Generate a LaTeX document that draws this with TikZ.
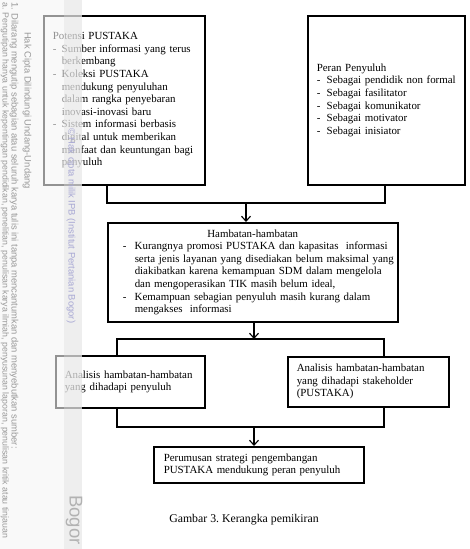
\documentclass[tikz,border=0pt]{standalone}
\usepackage{fontspec}
\setmainfont{Liberation Serif}
\newfontfamily\wmfont{Liberation Sans}
\usetikzlibrary{arrows.meta}

\definecolor{wmungu}{RGB}{168,168,212}

\tikzset{
  kotak/.style={draw, line width=1.5pt, align=left, anchor=north west,
    inner xsep=9pt, inner ysep=0pt, font=\fontsize{10.9}{12.6}\selectfont},
  garis/.style={line width=1.1pt},
  panah/.style={line width=1.1pt, -{Straight Barb[length=5pt,width=9pt]}},
  wm/.style={rotate=-90, inner sep=0pt, text=black!40,
    font=\wmfont\fontsize{9.4}{11}\selectfont},
}

% baris daftar dengan tanda strip
\newcommand{\butir}[2][9pt]{\mbox{\makebox[#1][l]{-}#2}}
\newcommand{\lanjut}[2][9pt]{\mbox{\hspace*{#1}#2}}

\begin{document}
\begin{tikzpicture}[x=1pt,y=-1pt]
  \useasboundingbox (0,0) rectangle (469,549);

  % kotak atas
  \node[kotak, text width=143pt, minimum height=169pt] (pot) at (43,15) {%
    \mbox{Potensi PUSTAKA}\\
    \butir{Sumber informasi yang terus}\\
    \lanjut{berkembang}\\
    \butir{Koleksi PUSTAKA}\\
    \lanjut{mendukung penyuluhan}\\
    \lanjut{dalam rangka penyebaran}\\
    \lanjut{inovasi-inovasi baru}\\
    \butir{Sistem informasi berbasis}\\
    \lanjut{digital untuk memberikan}\\
    \lanjut{manfaat dan keuntungan bagi}\\
    \lanjut{penyuluh}};
  \node[kotak, text width=139pt, minimum height=169pt] (peran) at (307,15) {%
    \mbox{Peran Penyuluh}\\
    \butir[10pt]{Sebagai pendidik non formal}\\
    \butir[10pt]{Sebagai fasilitator}\\
    \butir[10pt]{Sebagai komunikator}\\
    \butir[10pt]{Sebagai motivator}\\
    \butir[10pt]{Sebagai inisiator}};

  % hambatan
  \node[kotak, text width=272pt, minimum height=99pt] (hambatan) at (107,222) {%
    \makebox[272pt][c]{Hambatan-hambatan}\\
    \hspace*{6pt}\butir[12pt]{Kurangnya promosi PUSTAKA dan kapasitas\ \ informasi}\\
    \hspace*{6pt}\lanjut[12pt]{serta jenis layanan yang disediakan belum maksimal yang}\\
    \hspace*{6pt}\lanjut[12pt]{diakibatkan karena kemampuan SDM dalam mengelola}\\
    \hspace*{6pt}\lanjut[12pt]{dan mengoperasikan TIK masih belum ideal,}\\
    \hspace*{6pt}\butir[12pt]{Kemampuan sebagian penyuluh\ masih kurang\ dalam}\\
    \hspace*{6pt}\lanjut[12pt]{mengakses\ \ informasi}};

  % analisis
  \node[kotak, text width=131pt, minimum height=52pt] (anpen) at (55,355) {%
    \mbox{Analisis hambatan-hambatan}\\
    \mbox{yang dihadapi penyuluh}};
  \node[kotak, text width=143pt, minimum height=50pt] (anstake) at (287,356) {%
    \mbox{Analisis hambatan-hambatan}\\
    \mbox{yang\ dihadapi stakeholder}\\
    \mbox{(PUSTAKA)}};

  % perumusan
  \node[kotak, inner xsep=10pt, text width=190pt, minimum height=36pt] (rumus) at (153,446) {%
    \mbox{Perumusan strategi pengembangan}\\
    \mbox{PUSTAKA\ mendukung\ peran penyuluh}};

  \node[font=\fontsize{11.8}{14}\selectfont] (judul) at (244,520) {Gambar 3.\ Kerangka pemikiran};

  % sambungan
  \coordinate (a1) at (107,203);
  \coordinate (a2) at (385,203);
  \coordinate (a3) at (246,203);
  \draw[garis] (pot.south -| a1) -- (a1) -- (a2) -- (peran.south -| a2);
  \draw[panah] (a3) -- (hambatan.north -| a3);

  \coordinate (b1) at (117,339);
  \coordinate (b2) at (384,339);
  \coordinate (b3) at (254,339);
  \draw[panah] (hambatan.south -| b3) -- (b3);
  \draw[garis] (anpen.north -| b1) -- (b1) -- (b2) -- (anstake.north -| b2);

  \coordinate (c1) at (117,427);
  \coordinate (c2) at (384,427);
  \coordinate (c3) at (254,427);
  \draw[garis] (anpen.south -| c1) -- (c1) -- (c2) -- (anstake.south -| c2);
  \draw[panah] (c3) -- (rumus.north -| c3);

  % tanda air di tepi kiri
  \fill[black!4, fill opacity=0.6] (0,0) rectangle (64,549);
  \fill[black!9, fill opacity=0.75] (64,0) rectangle (82,549);
  \node[wm, anchor=west, font=\wmfont\fontsize{8.8}{10}\selectfont] (wm1) at (5,2) {a. Pengutipan hanya untuk kepentingan pendidikan, penelitian, penulisan karya ilmiah, penyusunan laporan, penulisan kritik atau tinjauan};
  \node[wm, anchor=west] (wm2) at (14,2) {1. Dilarang mengutip sebagian atau seluruh karya tulis ini tanpa mencantumkan dan menyebutkan sumber:};
  \node[wm, anchor=west] (wm3) at (27,32) {Hak Cipta Dilindungi Undang-Undang};
  \node[wm, anchor=west, text=wmungu] (wm4) at (71,128) {\textcopyright\ Hak cipta milik IPB (Institut Pertanian Bogor)};
  \node[wm, anchor=west, text=black!30, font=\wmfont\fontsize{18.5}{20}\selectfont] (wm5) at (74,495) {Bogor};
\end{tikzpicture}
\end{document}
